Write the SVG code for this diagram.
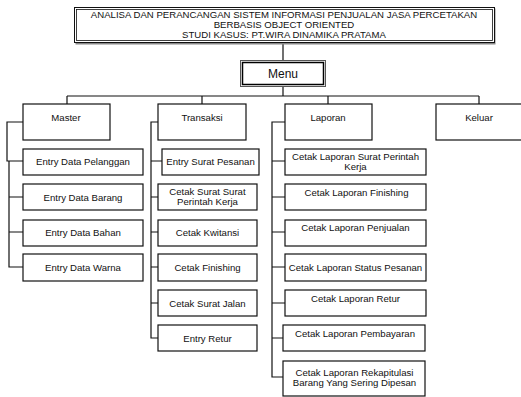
<svg xmlns="http://www.w3.org/2000/svg" width="521" height="397" viewBox="0 0 521 397">
<style>
text{font-family:"Liberation Sans",Arial,sans-serif;font-size:9.6px;fill:#111;text-anchor:middle}
.box{fill:#fff;stroke:#111;stroke-width:1.2}
.conn{fill:none;stroke:#111;stroke-width:1.2}
.menu{font-size:12px}
</style>
<rect width="521" height="397" fill="#fff"/>
<g id="connectors" class="conn">
<path d="M283,43 V60"/>
<path d="M283,86 V96"/>
<path d="M67,96 H479"/>
<path d="M67,96 V104 M202,96 V104 M328,96 V104 M479,96 V104"/>
<path d="M23,122 H7 V161 H23"/>
<path d="M9,161 V267 H23 M9,197 H23 M9,232 H23"/>
<path d="M158,122 H151 V338 H158 M151,161 H162 M151,197 H158 M151,232 H158 M151,267 H158 M151,303 H158"/>
<path d="M285,122 H272 V377 H283 M272,161 H285 M272,197 H285 M272,232 H285 M272,267 H285 M272,303 H285 M272,338 H283"/>
</g>
<g id="title">
<rect x="75.5" y="8.5" width="420" height="36" fill="#888"/>
<rect x="74.5" y="7.5" width="420" height="35" fill="#fff" stroke="#111" stroke-width="1"/>
<rect x="76.5" y="9.5" width="416" height="31" fill="none" stroke="#111" stroke-width="0.8"/>
<text x="284" y="18">ANALISA DAN PERANCANGAN SISTEM INFORMASI PENJUALAN JASA PERCETAKAN</text>
<text x="284" y="28">BERBASIS OBJECT ORIENTED</text>
<text x="284" y="38">STUDI KASUS: PT.WIRA DINAMIKA PRATAMA</text>
</g>
<g id="menu">
<rect x="240.5" y="60.5" width="85" height="26" fill="#fff" stroke="#555" stroke-width="1"/>
<rect x="242.5" y="62.5" width="81" height="22" fill="none" stroke="#000" stroke-width="1.5"/>
<text class="menu" x="283" y="78">Menu</text>
</g>
<g id="master"><rect class="box" x="23" y="104" width="87" height="36"/><text x="66" y="120.5">Master</text></g>
<g id="transaksi"><rect class="box" x="158" y="104" width="88" height="36"/><text x="202" y="120.5">Transaksi</text></g>
<g id="laporan"><rect class="box" x="285" y="104" width="87" height="36"/><text x="328" y="120.5">Laporan</text></g>
<g id="keluar"><rect class="box" x="436" y="104" width="90" height="36"/><text x="479" y="120.5">Keluar</text></g>
<g id="m1"><rect class="box" x="23" y="149" width="120" height="26"/><text x="83" y="164.5">Entry Data Pelanggan</text></g>
<g id="m2"><rect class="box" x="23" y="184" width="120" height="26"/><text x="83" y="200.5">Entry Data Barang</text></g>
<g id="m3"><rect class="box" x="23" y="220" width="120" height="26"/><text x="83" y="235.5">Entry Data Bahan</text></g>
<g id="m4"><rect class="box" x="23" y="254" width="120" height="27"/><text x="83" y="270.5">Entry Data Warna</text></g>
<g id="t1"><rect class="box" x="162" y="149" width="97" height="26"/><text x="210.5" y="164.5">Entry Surat Pesanan</text></g>
<g id="t2"><rect class="box" x="158" y="184" width="99" height="26"/><text x="207.5" y="195">Cetak Surat Surat</text><text x="207.5" y="205">Perintah Kerja</text></g>
<g id="t3"><rect class="box" x="158" y="220" width="99" height="26"/><text x="207.5" y="235.5">Cetak Kwitansi</text></g>
<g id="t4"><rect class="box" x="158" y="254" width="99" height="27"/><text x="207.5" y="270.5">Cetak Finishing</text></g>
<g id="t5"><rect class="box" x="158" y="290" width="99" height="26"/><text x="207.5" y="306.5">Cetak Surat Jalan</text></g>
<g id="t6"><rect class="box" x="158" y="325" width="99" height="26"/><text x="207.5" y="341.5">Entry Retur</text></g>
<g id="l1"><rect class="box" x="285" y="149" width="141" height="26"/><text x="355.5" y="160">Cetak Laporan Surat Perintah</text><text x="355.5" y="170">Kerja</text></g>
<g id="l2"><rect class="box" x="285" y="184" width="141" height="26"/><text x="356.5" y="195.5">Cetak Laporan Finishing</text></g>
<g id="l3"><rect class="box" x="285" y="220" width="141" height="26"/><text x="355.5" y="230.5">Cetak Laporan Penjualan</text></g>
<g id="l4"><rect class="box" x="285" y="254" width="141" height="27"/><text x="355.5" y="270.5">Cetak Laporan Status Pesanan</text></g>
<g id="l5"><rect class="box" x="285" y="290" width="141" height="26"/><text x="355.5" y="301.5">Cetak Laporan Retur</text></g>
<g id="l6"><rect class="box" x="283" y="325" width="142" height="26"/><text x="355" y="336.5">Cetak Laporan Pembayaran</text></g>
<g id="l7"><rect class="box" x="283" y="361" width="142" height="35"/><text x="354.5" y="376">Cetak Laporan Rekapitulasi</text><text x="354.5" y="386">Barang Yang Sering Dipesan</text></g>
</svg>
